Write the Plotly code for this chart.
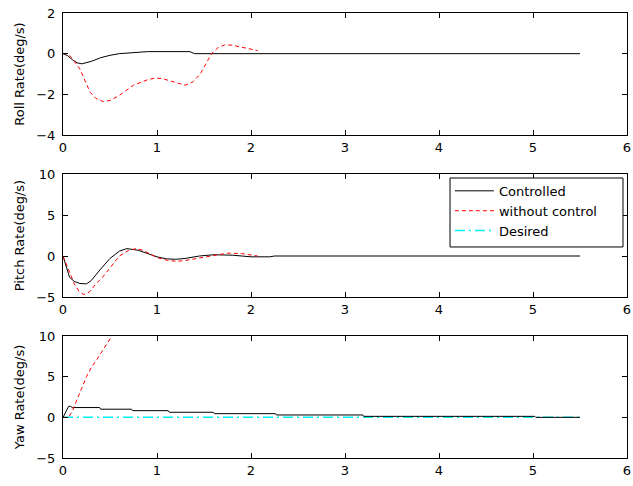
import plotly.graph_objects as go

# ---- data ----
t_roll_ctrl = [0, 0.05, 0.1, 0.15, 0.2, 0.25, 0.3, 0.4, 0.5, 0.6, 0.9, 1.35, 1.4, 5.5]
roll_ctrl = [0, -0.1, -0.3, -0.45, -0.5, -0.45, -0.38, -0.2, -0.08, 0, 0.1, 0.1, 0, 0]

t_roll_unc = [0, 0.05, 0.1, 0.18, 0.24, 0.29, 0.35, 0.43, 0.5, 0.6, 0.75, 0.9, 0.98, 1.05, 1.15, 1.3,
              1.38, 1.46, 1.52, 1.58, 1.65, 1.72, 1.8, 1.9, 2.0, 2.07]
roll_unc = [0, 0, -0.25, -0.75, -1.4, -1.9, -2.2, -2.36, -2.3, -2.05, -1.55, -1.28, -1.2, -1.22, -1.35, -1.55,
            -1.4, -1.0, -0.5, 0, 0.3, 0.43, 0.42, 0.33, 0.22, 0.15]

t_pitch_ctrl = [0, 0.03, 0.07, 0.12, 0.18, 0.25, 0.3, 0.4, 0.5, 0.6, 0.68, 0.8, 0.9, 1.0, 1.1, 1.2, 1.3,
                1.45, 1.6, 1.8, 2.0, 2.2, 2.25, 5.5]
pitch_ctrl = [0, -1.2, -2.6, -3.1, -3.35, -3.4, -3.0, -1.6, -0.3, 0.6, 0.9, 0.7, 0.3, -0.1, -0.35, -0.4, -0.3,
              0, 0.15, 0.1, -0.1, -0.1, 0, 0]

t_pitch_unc = [0, 0.03, 0.07, 0.12, 0.17, 0.22, 0.28, 0.35, 0.42, 0.5, 0.6, 0.7, 0.78, 0.85, 0.92, 1.0,
               1.1, 1.21, 1.3, 1.46, 1.6, 1.75, 1.9, 2.0, 2.07]
pitch_unc = [0, -0.8, -2.0, -3.4, -4.3, -4.7, -4.4, -3.4, -2.6, -1.5, 0, 0.7, 0.9, 0.7, 0.3, -0.2,
             -0.5, -0.65, -0.55, -0.2, 0.1, 0.35, 0.3, 0.15, 0]

t_yaw_ctrl = [0, 0.03, 0.06, 0.08, 0.1, 0.39, 0.4, 0.73, 0.74, 1.12, 1.13, 1.6, 1.61, 2.26, 2.27,
              3.19, 3.2, 5.02, 5.03, 5.5]
yaw_ctrl = [0, 0.6, 1.35, 1.35, 1.2, 1.2, 1.0, 1.0, 0.82, 0.82, 0.62, 0.62, 0.45, 0.45, 0.29,
            0.29, 0.12, 0.12, 0, 0]

t_yaw_unc = [0, 0.06, 0.1, 0.15, 0.2, 0.25, 0.3, 0.36, 0.42, 0.48, 0.52]
yaw_unc = [0, 0, 0.8, 2.1, 3.6, 5.0, 6.1, 7.1, 8.2, 9.3, 10.0]

t_yaw_des = [0, 5.5]
yaw_des = [0, 0]

x_ticks = [0, 1, 2, 3, 4, 5, 6]
y_titles = ["Roll Rate(deg/s)", "Pitch Rate(deg/s)", "Yaw Rate(deg/s)"]
y_ranges = [[-4, 2], [-5, 10], [-5, 10]]
y_dticks = [2, 5, 5]

# ---- figure ----
RED_DASH = "4px,3px"
CYAN_DASH = "10px,4px,2px,4px"
fig = go.Figure()

def add(x, y, ax, name, color, dash, show, width=1):
    fig.add_trace(go.Scatter(x=x, y=y, mode="lines", name=name, legendgroup=name,
                             showlegend=show, xaxis="x" + ax, yaxis="y" + ax,
                             line=dict(color=color, width=width, dash=dash)))

add(t_roll_ctrl, roll_ctrl, "", "Controlled", "black", "solid", False)
add(t_roll_unc, roll_unc, "", "without control", "red", RED_DASH, False)
add(t_pitch_ctrl, pitch_ctrl, "2", "Controlled", "black", "solid", True)
add(t_pitch_unc, pitch_unc, "2", "without control", "red", RED_DASH, True)
add(t_yaw_des, yaw_des, "3", "Desired", "#00f0f0", CYAN_DASH, True, 1.5)
add(t_yaw_ctrl, yaw_ctrl, "3", "Controlled", "black", "solid", False)
add(t_yaw_unc, yaw_unc, "3", "without control", "red", RED_DASH, False)

domains = [[0.7258, 1.0], [0.3618, 0.6382], [0.0, 0.2742]]
font = dict(family="DejaVu Sans, sans-serif", size=13, color="black")
layout = dict(
    width=633, height=486,
    margin=dict(l=63, r=6, t=13, b=28),
    paper_bgcolor="white", plot_bgcolor="white",
    font=font,
    legend=dict(x=0.686, y=0.634, xanchor="left", yanchor="top",
                borderwidth=0, bgcolor="rgba(0,0,0,0)",
                font=font, tracegroupgap=0, itemwidth=39,
                traceorder="normal"),
    shapes=[dict(type="rect", xref="paper", yref="paper",
                 x0=0.6862, x1=0.9929, y0=0.4742, y1=0.6292,
                 line=dict(color="black", width=1), fillcolor="white", layer="above")],
)
for i in range(3):
    sfx = "" if i == 0 else str(i + 1)
    layout["xaxis" + sfx] = dict(
        domain=[0, 1], anchor="y" + sfx, range=[0, 6], tickvals=x_ticks,
        showline=True, linecolor="black", linewidth=1, mirror="ticks",
        ticks="inside", ticklen=5, tickcolor="black", showgrid=False, zeroline=False,
        tickfont=font, automargin=False, ticklabeloverflow="allow",
    )
    layout["yaxis" + sfx] = dict(
        domain=domains[i], anchor="x" + sfx, range=y_ranges[i], dtick=y_dticks[i],
        showline=True, linecolor="black", linewidth=1, mirror="ticks",
        ticks="inside", ticklen=5, tickcolor="black", showgrid=False, zeroline=False,
        tickfont=font, automargin=False, ticklabeloverflow="allow", ticklabelstandoff=4,
        title=dict(text=y_titles[i], font=font, standoff=8),
    )
fig.update_layout(**layout)
fig.write_html("out.html", config={"displayModeBar": False},
               post_script="document.body.style.margin='0';document.body.style.overflow='hidden';")
